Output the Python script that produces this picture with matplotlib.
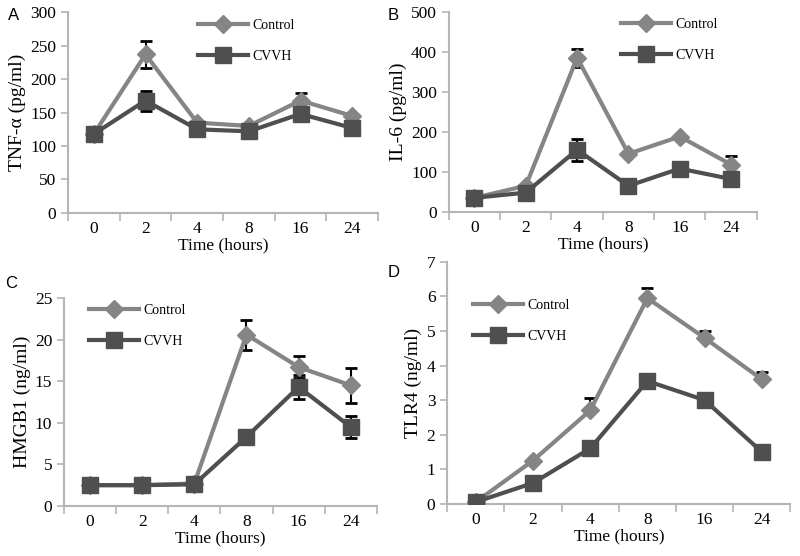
import matplotlib
matplotlib.use("Agg")
import matplotlib.pyplot as plt
import numpy as np

plt.rcParams['font.family'] = ['Liberation Serif', 'DejaVu Serif']

times = ["0", "2", "4", "8", "16", "24"]

# panel A: TNF-alpha (pg/ml)
tnf_ctrl = [118, 237, 135, 130, 168, 145]
tnf_ctrl_err = [0, 20, 0, 0, 12, 0]
tnf_cvvh = [118, 168, 125, 122, 148, 127]
tnf_cvvh_err = [0, 15, 0, 0, 0, 0]

# panel B: IL-6 (pg/ml)
il6_ctrl = [35, 65, 385, 145, 188, 118]
il6_ctrl_err = [0, 0, 22, 0, 0, 22]
il6_cvvh = [35, 48, 155, 65, 108, 82]
il6_cvvh_err = [0, 0, 27, 0, 0, 0]

# panel C: HMGB1 (ng/ml)
hmg_ctrl = [2.5, 2.5, 2.7, 20.6, 16.7, 14.5]
hmg_ctrl_err = [0, 0, 0, 1.8, 1.3, 2.1]
hmg_cvvh = [2.5, 2.5, 2.6, 8.3, 14.3, 9.5]
hmg_cvvh_err = [0, 0, 0, 0, 1.5, 1.3]

# panel D: TLR4 (ng/ml)
tlr_ctrl = [0.05, 1.25, 2.7, 5.95, 4.8, 3.6]
tlr_ctrl_err = [0, 0, 0.35, 0.3, 0.2, 0.2]
tlr_cvvh = [0.05, 0.6, 1.6, 3.55, 3.0, 1.5]
tlr_cvvh_err = [0, 0, 0, 0, 0, 0]

panels = [
    ("A", [0.085, 0.617, 0.3875, 0.361], "TNF-\u03b1 (pg/ml)", 300, 50,
     tnf_ctrl, tnf_ctrl_err, tnf_cvvh, tnf_cvvh_err, (0.38, 1.03), "both"),
    ("B", [0.561, 0.619, 0.385, 0.360], "IL-6 (pg/ml)", 500, 100,
     il6_ctrl, il6_ctrl_err, il6_cvvh, il6_cvvh_err, (0.52, 1.03), "both"),
    ("C", [0.080, 0.090, 0.391, 0.374], "HMGB1 (ng/ml)", 25, 5,
     hmg_ctrl, hmg_ctrl_err, hmg_cvvh, hmg_cvvh_err, (0.04, 1.03), "both"),
    ("D", [0.559, 0.094, 0.429, 0.435], "TLR4 (ng/ml)", 7, 1,
     tlr_ctrl, tlr_ctrl_err, tlr_cvvh, tlr_cvvh_err, (0.04, 0.90), "up"),
]

label_pos = {"A": (0.010, 0.985), "B": (0.485, 0.985), "C": (0.006, 0.504), "D": (0.485, 0.523)}

ctrl_col = "#858585"
cvvh_col = "#4f4f4f"
spine_col = "#b5b5b5"

fig = plt.figure(figsize=(8, 5.56), dpi=100)
x = np.arange(len(times))

for name, rect, ylab, ymax, ystep, c, ce, v, ve, legpos, errmode in panels:
    ax = fig.add_axes(rect)
    if errmode == "up":
        ce_arr = [np.zeros(len(ce)), ce]
    else:
        ce_arr = ce
    ax.errorbar(x, c, yerr=ce_arr, fmt="none", ecolor="black", elinewidth=1.5,
                capsize=4, capthick=2, zorder=1)
    ax.errorbar(x, v, yerr=ve, fmt="none", ecolor="black", elinewidth=1.5,
                capsize=4, capthick=2, zorder=1)
    ax.plot(x, c, color=ctrl_col, lw=3, marker="D", ms=9.5, mfc=ctrl_col,
            mec=ctrl_col, label="Control", zorder=3)
    ax.plot(x, v, color=cvvh_col, lw=3, marker="s", ms=11.5, mfc=cvvh_col,
            mec=cvvh_col, label="CVVH", zorder=4)

    ax.set_xlim(-0.5, len(times) - 0.5)
    ax.set_ylim(0, ymax)
    ax.set_yticks(np.arange(0, ymax + ystep / 2, ystep))
    ax.set_xticks(np.arange(-0.5, len(times), 1.0))
    ax.set_xticklabels([])
    ax.set_xticks(x, minor=True)
    ax.set_xticklabels(times, minor=True)
    ax.tick_params(axis="x", which="major", length=6, color=spine_col, width=1.2)
    ax.tick_params(axis="x", which="minor", length=0, labelsize=12.5, pad=6)
    ax.tick_params(axis="y", length=5, color=spine_col, width=1.2, labelsize=12.5)
    for s in ["top", "right"]:
        ax.spines[s].set_visible(False)
    for s in ["left", "bottom"]:
        ax.spines[s].set_color(spine_col)
        ax.spines[s].set_linewidth(1.5)
    ax.set_xlabel("Time (hours)", fontsize=12.5, labelpad=0)
    ax.set_ylabel(ylab, fontsize=14, labelpad=3)
    ax.legend(loc="upper left", bbox_to_anchor=legpos, frameon=False,
              handlelength=3.6, labelspacing=1.3, fontsize=10, handletextpad=0.3)

    fig.text(label_pos[name][0], label_pos[name][1], name, fontsize=12,
             family="Liberation Sans", va="top", ha="left")

fig.savefig("out.png", dpi=100)
